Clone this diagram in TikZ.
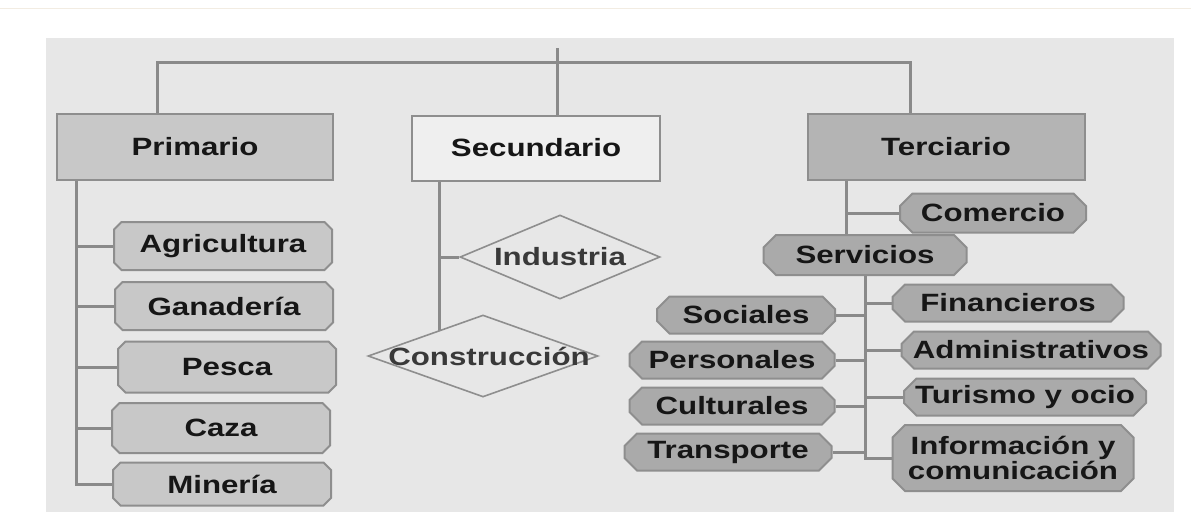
\documentclass[tikz,border=0pt]{standalone}
\usepackage{fontspec}
\setmainfont{Liberation Sans}[FakeStretch=1.25]
\usetikzlibrary{shapes.geometric,shapes.misc,backgrounds}

\definecolor{panelgray}{HTML}{E7E7E7}
\definecolor{topline}{HTML}{F2ECE2}
\definecolor{primfill}{HTML}{C8C8C8}
\definecolor{secfill}{HTML}{EFEFEF}
\definecolor{tercbox}{HTML}{B4B4B4}
\definecolor{tercfill}{HTML}{AAAAAA}
\definecolor{edgegray}{HTML}{8E8E8E}
\definecolor{linegray}{HTML}{8A8A8A}
\definecolor{ink}{HTML}{161616}

\begin{document}
\begin{tikzpicture}[x=1pt, y=-1pt,
  txt/.style={font=\fontsize{25}{26}\selectfont\bfseries, text=ink, inner sep=0pt},
  sectorbox/.style={txt, rectangle, draw=edgegray, line width=2pt, minimum width=276pt, minimum height=66pt},
  primitem/.style={txt, chamfered rectangle, chamfered rectangle xsep=4pt, draw=edgegray, line width=2pt, fill=primfill, minimum width=218pt},
  tercitem/.style={txt, chamfered rectangle, chamfered rectangle xsep=9pt, draw=edgegray, line width=2pt, fill=tercfill, minimum height=37pt},
  secitem/.style={diamond, draw=edgegray, line width=1.6pt, fill=panelgray, inner sep=0pt, font=\fontsize{25}{26}\selectfont\bfseries, text=ink!85},
  link/.style={draw=linegray, line width=3pt}]

  \useasboundingbox (0,0) rectangle (1191,515);

  % Sector boxes
  \node[sectorbox, fill=primfill] (prim) at (195,147) {Primario};
  \node[sectorbox, fill=secfill, minimum width=248pt, minimum height=65pt] (sec) at (536,148) {Secundario};
  \node[sectorbox, fill=tercbox, minimum width=277pt] (terc) at (946,147) {Terciario};

  % Primario items
  \node[primitem, minimum height=48pt] (agri) at (223,246) {Agricultura};
  \node[primitem, minimum height=48pt] (gana) at (224,306) {Ganadería};
  \node[primitem, minimum height=51pt] (pesc) at (227,367) {Pesca};
  \node[primitem, minimum height=50pt] (caza) at (221,428) {Caza};
  \node[primitem, minimum height=43pt] (mine) at (222,484) {Minería};

  % Secundario items
  \node[secitem, minimum width=200pt, minimum height=84pt] (indu) at (560,257) {\makebox[0pt]{Industria}};
  \node[secitem, minimum width=230pt, minimum height=82pt] (cons) at (483,356) {\makebox[0pt]{\hspace{12pt}Construcción}};

  % Terciario items
  \node[tercitem, minimum width=186pt, minimum height=39pt] (come) at (993,213) {Comercio};
  \node[tercitem, minimum width=203pt, minimum height=40pt] (serv) at (865,255) {Servicios};
  \node[tercitem, minimum width=178pt] (soci) at (746,315) {Sociales};
  \node[tercitem, minimum width=205pt] (pers) at (732,360) {Personales};
  \node[tercitem, minimum width=205pt] (cult) at (732,406) {Culturales};
  \node[tercitem, minimum width=207pt] (tran) at (728,452) {Transporte};
  \node[tercitem, minimum width=231pt] (fina) at (1008,303) {Financieros};
  \node[tercitem, minimum width=259pt] (admi) at (1031,350) {Administrativos};
  \node[tercitem, minimum width=242pt] (turi) at (1025,397) {Turismo y ocio};
  \node[tercitem, minimum width=241pt, minimum height=66pt, align=center,
        font=\fontsize{25}{23}\selectfont\bfseries] (info) at (1013,458) {Información y\\comunicación};

  \begin{scope}[on background layer]
    % Page and panel
    \fill[white] (0,0) rectangle (1191,515);
    \draw[topline, line width=1pt] (0,8) -- (1191,8);
    \fill[panelgray] (46,38) rectangle (1174,512);

    % Top bar
    \coordinate (root) at (557,48);
    \coordinate (bar) at (557,62);
    \draw[link] (root) -- (root |- sec.north);
    \draw[link] ([xshift=-38pt]prim.north) |- (bar) -| ([xshift=-36pt]terc.north);

    % Primario trunk
    \coordinate (ptrunk) at ([xshift=20pt]prim.south west);
    \draw[link] (ptrunk) |- (mine.west);
    \foreach \n in {agri,gana,pesc,caza}
      \draw[link] (ptrunk |- \n.west) -- (\n.west);

    % Secundario trunk
    \coordinate (strunk) at ([xshift=28pt]sec.south west);
    \draw[link] (strunk) -- (strunk |- cons.north west);
    \draw[link] (strunk |- indu.west) -- (indu.west);

    % Terciario trunk
    \coordinate (ttrunk) at ([xshift=40pt]terc.south west);
    \draw[link] (ttrunk) -- (ttrunk |- serv.north);
    \draw[link] (ttrunk |- come.west) -- (come.west);

    % Servicios trunk
    \draw[link] (serv.south) |- (info.west);
    \foreach \n in {fina,admi,turi}
      \draw[link] (serv.south |- \n.west) -- (\n.west);
    \foreach \n in {soci,pers,cult,tran}
      \draw[link] (\n.east) -- (serv.south |- \n.east);
  \end{scope}
\end{tikzpicture}
\end{document}
